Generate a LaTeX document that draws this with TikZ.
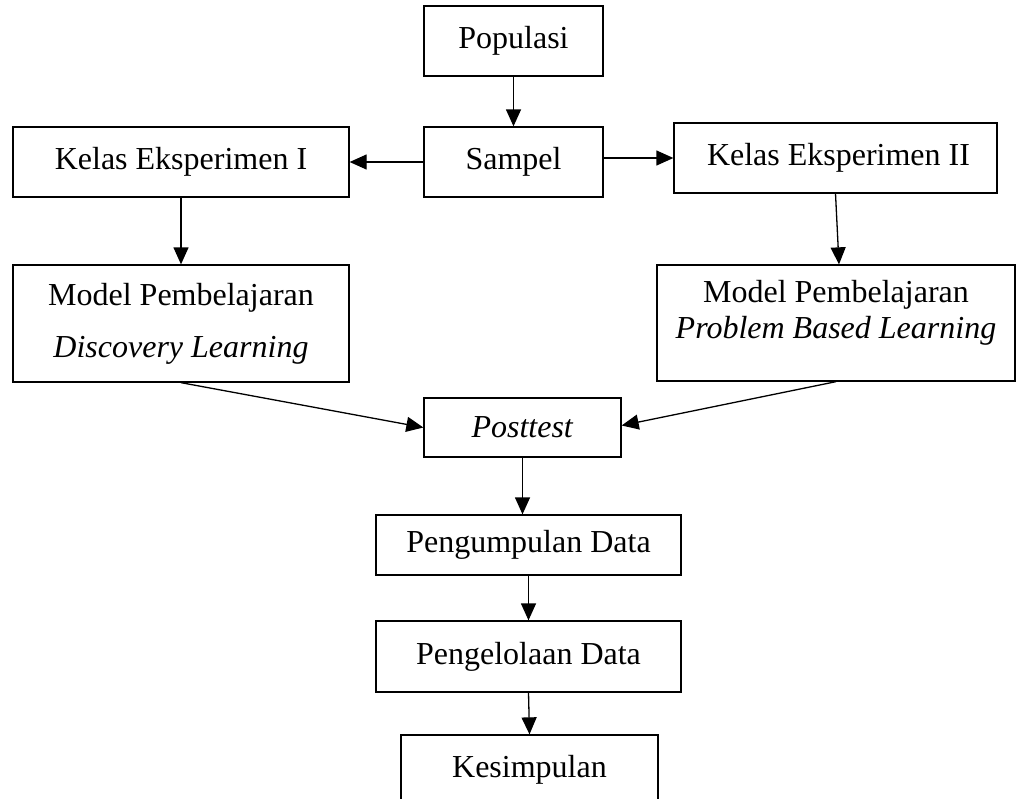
\documentclass[tikz,border=0pt]{standalone}
\usepackage{fontspec}
\setmainfont{Liberation Serif}
\usetikzlibrary{arrows.meta,calc}
\begin{document}
\begin{tikzpicture}[x=1pt,y=-1pt,
  box/.style={draw, line width=1.3pt, inner sep=0pt, align=center,
    font=\fontsize{32}{36}\selectfont},
  arr/.style={line width=1.3pt, -{Triangle[length=17pt,width=15pt]}},
  ln/.style={line width=1.3pt}]
\useasboundingbox (0,0) rectangle (1016,798);
\clip (0,0) rectangle (1016,798);
\node[box, minimum width=179pt, minimum height=70pt] (pop) at (513.5,41) {Populasi};
\node[box, minimum width=179pt, minimum height=70pt] (samp) at (513.5,162) {Sampel};
\node[box, minimum width=336pt, minimum height=70pt] (ke1) at (181,162) {Kelas Eksperimen I};
\node[box, minimum width=323pt, minimum height=70pt] (ke2) at (835.5,158) {\hspace{6pt}Kelas Eksperimen II};
\node[box, minimum width=336pt, minimum height=117pt] (dl) at (181,323.5) {Model Pembelajaran\\[16pt]\textit{Discovery Learning}};
\node[box, minimum width=358pt, minimum height=116pt] (pbl) at (836,323) {Model Pembelajaran\\\textit{Problem Based Learning}\\[-8pt]};
\node[box, minimum width=197pt, minimum height=59pt] (post) at (522.5,427.5) {\textit{Posttest}};
\node[box, minimum width=305pt, minimum height=60pt] (peng) at (528.5,545) {Pengumpulan Data};
\node[box, minimum width=305pt, minimum height=71pt] (pengel) at (528.5,656.5) {Pengelolaan Data};
\node[box, minimum width=257pt, minimum height=70pt] (kes) at (529.5,770) {Kesimpulan};
\draw[arr] (pop.south) -- (samp.north);
\draw[arr] (samp.west) -- (ke1.east);
\draw[arr] (samp.east |- ke2.west) -- (ke2.west);
\draw[arr] (ke1.south) -- (dl.north);
\draw[arr] (ke2.south) -- ($(pbl.north)+(3,0)$);
\draw[arr] (dl.south) -- (post.west);
\draw[arr] (pbl.south) -- ($(post.east)+(0,-2)$);
\draw[arr] (post.south) -- (post.south |- peng.north);
\draw[arr] (peng.south) -- (pengel.north);
\draw[arr] (pengel.south) -- (kes.north);
\end{tikzpicture}
\end{document}
